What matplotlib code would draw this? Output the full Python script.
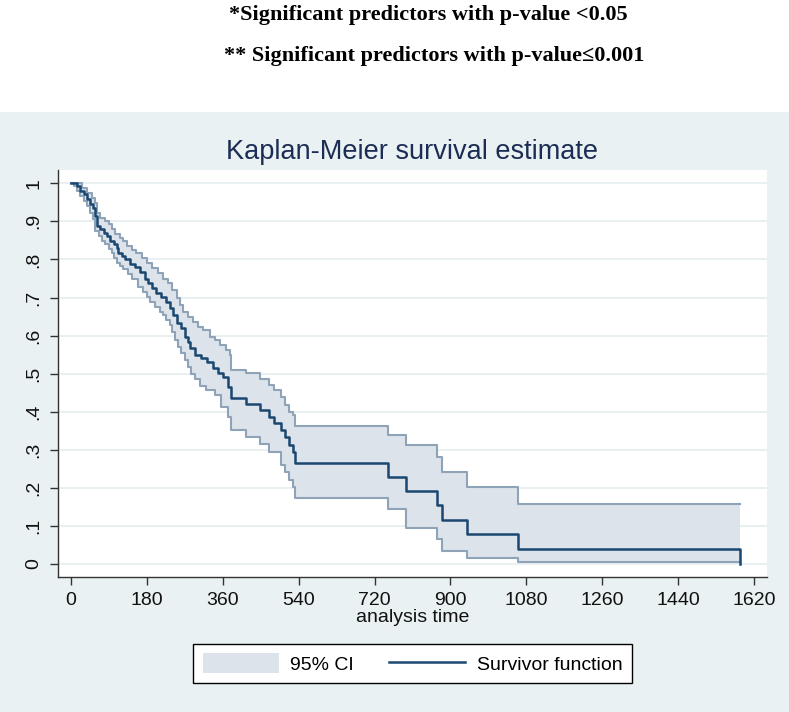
import numpy as np
import matplotlib
matplotlib.use('Agg')
import matplotlib.pyplot as plt
from matplotlib.patches import Rectangle, Patch
from matplotlib.lines import Line2D

# Kaplan-Meier estimate (time in days)
surv_time = [0, 15, 23, 31, 38, 46, 54, 58, 62, 70, 78, 86, 94, 102, 110, 113, 121, 129, 141, 152,
             164, 176, 184, 192, 203, 215, 227, 235, 243, 251, 262, 270, 278, 282, 294, 310, 322, 337, 349, 361,
             373, 381, 416, 448, 471, 483, 499, 509, 517, 526, 531, 751, 794, 869, 880, 940, 1061, 1587]
surv = [1.0, 0.993, 0.980, 0.971, 0.958, 0.945, 0.936, 0.914, 0.888, 0.879,
        0.870, 0.862, 0.848, 0.840, 0.831, 0.818, 0.809, 0.800, 0.789, 0.779,
        0.767, 0.750, 0.737, 0.724, 0.711, 0.702, 0.689, 0.672, 0.654, 0.632,
        0.619, 0.597, 0.584, 0.567, 0.549, 0.540, 0.531, 0.514, 0.503, 0.492,
        0.466, 0.435, 0.420, 0.405, 0.387, 0.370, 0.352, 0.334, 0.313, 0.295,
        0.265, 0.229, 0.193, 0.155, 0.116, 0.078, 0.039, 0.0]

# upper 95% CI
hi_time = [0, 27, 38, 50, 58, 62, 70, 82, 90, 98, 106, 117, 125, 133, 145, 156, 168, 180, 192, 207,
           219, 231, 239, 251, 259, 266, 278, 290, 302, 314, 329, 341, 353, 369, 377, 381, 416, 448, 471, 483,
           499, 509, 517, 526, 531, 751, 794, 869, 880, 940, 1061]
hi = [1.0, 0.989, 0.975, 0.962, 0.949, 0.923, 0.910, 0.901, 0.892, 0.879,
      0.866, 0.857, 0.848, 0.835, 0.825, 0.816, 0.803, 0.790, 0.777, 0.764,
      0.750, 0.737, 0.720, 0.698, 0.680, 0.663, 0.650, 0.636, 0.623, 0.615,
      0.597, 0.588, 0.575, 0.562, 0.549, 0.511, 0.501, 0.486, 0.470, 0.457,
      0.439, 0.418, 0.400, 0.391, 0.363, 0.339, 0.313, 0.282, 0.243, 0.203, 0.158]

# lower 95% CI
lo_time = [0, 7, 15, 23, 31, 38, 46, 54, 58, 66, 74, 82, 90, 98, 102, 110, 117, 125, 137, 145,
           160, 172, 180, 188, 199, 211, 219, 227, 235, 239, 247, 254, 262, 270, 278, 285, 295, 306, 321, 341,
           357, 373, 381, 416, 448, 471, 499, 509, 517, 526, 531, 751, 794, 869, 880, 940, 1061]
lo = [1.0, 0.993, 0.980, 0.967, 0.954, 0.941, 0.923, 0.906, 0.875, 0.862,
      0.848, 0.840, 0.827, 0.818, 0.805, 0.791, 0.783, 0.774, 0.761, 0.748,
      0.728, 0.715, 0.702, 0.689, 0.676, 0.663, 0.654, 0.641, 0.628, 0.610,
      0.588, 0.571, 0.554, 0.536, 0.518, 0.500, 0.485, 0.468, 0.457, 0.444,
      0.413, 0.387, 0.352, 0.334, 0.315, 0.295, 0.260, 0.243, 0.221, 0.203,
      0.173, 0.144, 0.094, 0.065, 0.035, 0.015, 0.006]

t_end = 1587

x_ticks = [0, 180, 360, 540, 720, 900, 1080, 1260, 1440, 1620]
y_ticks = [0, 0.1, 0.2, 0.3, 0.4, 0.5, 0.6, 0.7, 0.8, 0.9, 1.0]
y_ticklabels = ['0', '.1', '.2', '.3', '.4', '.5', '.6', '.7', '.8', '.9', '1']

note1 = '*Significant predictors with p-value <0.05'
note2 = '** Significant predictors with p-value\u22640.001'

navy = '#1a476f'
ci_fill = '#dde3ea'
ci_edge = '#8fa3b8'
panel = '#eaf1f3'
grid = '#e4edf0'


def steps(t, v, end):
    # post-step path that runs on to the last time
    t = np.asarray(t, float)
    v = np.asarray(v, float)
    x = np.append(np.repeat(t, 2)[1:], end)
    y = np.repeat(v, 2)
    return x, y


plt.rcParams['font.family'] = ['Liberation Sans', 'DejaVu Sans']

fig = plt.figure(figsize=(7.89, 7.12), dpi=100)
fig.patch.set_facecolor('white')
# bluish graph region under the notes
fig.patches.append(Rectangle((0, 0), 1, 1 - 112 / 712, transform=fig.transFigure,
                             facecolor=panel, edgecolor='none', zorder=-10))

fig.text(229 / 789, 1 - 15 / 712, note1, family=['Liberation Serif', 'DejaVu Serif'],
         fontweight='bold', fontsize=16, ha='left', va='center')
fig.text(224 / 789, 1 - 56 / 712, note2, family=['Liberation Serif', 'DejaVu Serif'],
         fontweight='bold', fontsize=16, ha='left', va='center')

ax = fig.add_axes([58 / 789, 1 - 577 / 712, 709 / 789, 407 / 712])
ax.set_facecolor('white')

xu, yu = steps(hi_time, hi, t_end)
xl, yl = steps(lo_time, lo, t_end)
xs, ys = steps(surv_time, surv, t_end)

# CI band
ax.fill(np.concatenate([xu, xl[::-1]]), np.concatenate([yu, yl[::-1]]),
        color=ci_fill, lw=0, zorder=2)
ax.plot(xu, yu, color=ci_edge, lw=1.5, zorder=3)
ax.plot(xl, yl, color=ci_edge, lw=1.5, zorder=3)

# survivor function
ax.plot(xs, ys, color=navy, lw=1.8, zorder=4)

ax.set_xlim(-30, 1650)
ax.set_ylim(-0.034, 1.035)
ax.set_xticks(x_ticks)
ax.set_yticks(y_ticks)
ax.set_yticklabels(y_ticklabels, rotation=90, va='center')
ax.yaxis.grid(True, color=grid, lw=1.2)
ax.set_axisbelow(True)

for s in ['top', 'right']:
    ax.spines[s].set_visible(False)
for s in ['left', 'bottom']:
    ax.spines[s].set_color('#333333')
    ax.spines[s].set_linewidth(1.0)

ax.tick_params(axis='both', labelsize=14, length=6, width=1, color='#333333',
               labelcolor='#111111', pad=5)
ax.set_xlabel('analysis time', fontsize=14, labelpad=0, color='#111111')

ax.set_title('Kaplan-Meier survival estimate', fontsize=19.5, color='#1c2d55', pad=8)

handles = [Patch(facecolor=ci_fill, edgecolor='none'),
           Line2D([0], [0], color=navy, lw=1.8)]
leg = fig.legend(handles, ['95% CI', 'Survivor function'], loc='center',
                 bbox_to_anchor=(412.5 / 789, 1 - 663.5 / 712), ncol=2, fontsize=14,
                 frameon=True, fancybox=False, edgecolor='black', framealpha=1,
                 handlelength=3.9, handleheight=1.2, handletextpad=0.6,
                 columnspacing=1.8, borderpad=0.5)
leg.get_frame().set_linewidth(1.0)

fig.savefig('out.png', dpi=100)
